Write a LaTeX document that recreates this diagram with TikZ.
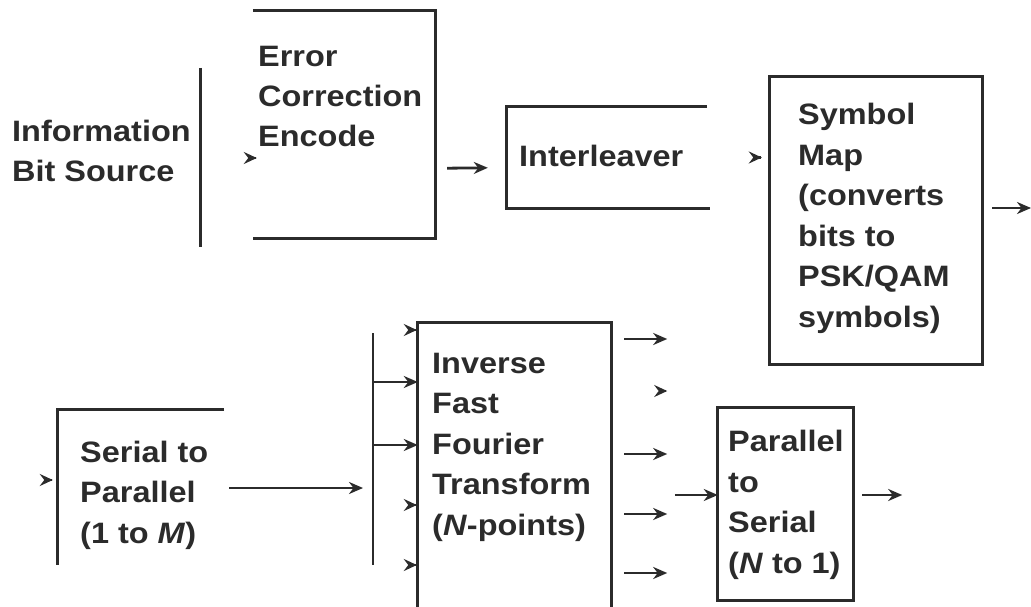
\documentclass[tikz,border=0pt]{standalone}
\usepackage{fontspec}
\setmainfont{Liberation Sans}[FakeStretch=1.1]
\usetikzlibrary{arrows.meta}
\definecolor{ink}{gray}{0.17}
\tikzset{
  wire/.style={draw=ink, line width=2.8pt},
  arr/.style={wire, -{Stealth[length=14pt, width=12pt, inset=4.5pt]}},
  headonly/.style={wire, -{Stealth[length=13pt, width=12pt, inset=4.5pt]}},
  frame/.style={draw=none, rectangle, inner sep=0pt},
  % multi-line labels are placed by the baseline of their last line
  lbl/.style={anchor=base west, inner sep=0pt, align=left, text=ink,
    font=\fontsize{29.5}{40.5}\selectfont\bfseries},
}
\begin{document}
\begin{tikzpicture}[x=1pt, y=-1pt]
\useasboundingbox[fill=white] (0,0) rectangle (1031,607);

% ---------- upper chain ----------
\node[frame, minimum width=192pt, minimum height=179pt] (src) at (104,157.5) {};
\draw[wire] (src.north east) -- (src.south east);
\node[lbl] (src-t) at (12,182) {Information\\Bit Source};

\node[frame, minimum width=182pt, minimum height=227pt] (ecc) at (344,124.5) {};
\draw[wire] (ecc.north west) -- (ecc.north east) -- (ecc.south east) -- (ecc.south west);
\node[lbl] (ecc-t) at (258,147) {Error\\Correction\\Encode};

\node[frame, minimum width=200pt, minimum height=101pt] (ilv) at (607,157.5) {};
\draw[wire] (ilv.north east) -- (ilv.north west) -- (ilv.south west) -- ([xshift=3pt]ilv.south east);
\node[lbl] (ilv-t) at (519,167) {Interleaver};

\node[frame, minimum width=212pt, minimum height=287pt] (map) at (876,220.5) {};
\draw[wire] (map.north west) rectangle (map.south east);
\node[lbl] (map-t) at (798,327) {Symbol\\Map\\(converts\\bits to\\PSK/QAM\\symbols)};

% connectors of the upper chain
\draw[headonly] ([shift={(3,33.5)}]ecc.west) -- ([shift={(4,33.5)}]ecc.west);
\draw[arr] ([shift={(12,-70)}]ecc.south east) -- ([shift={(-19,61)}]ilv.north west);
\draw[headonly] ([xshift=-9pt]map.west |- ilv.center) -- ([xshift=-8pt]map.west |- ilv.center);
\coordinate (map-out) at (1031,208);
\draw[arr] ([shift={(10,-12.5)}]map.east) -- (map-out);

% ---------- lower chain ----------
\node[frame, minimum width=166pt, minimum height=155pt] (s2p) at (141,487.5) {};
\draw[wire] (s2p.north east) -- (s2p.north west) -- (s2p.south west);
\node[lbl] (s2p-t) at (80,543) {Serial to\\Parallel\\(1 to \textit{M})};

\coordinate (bus-top) at (373,333);
\coordinate (bus-bot) at (373,565);
\draw[wire] (bus-top) -- (bus-bot);

\node[frame, minimum width=193pt, minimum height=290pt] (ifft) at (514.5,468) {};
\draw[wire] (ifft.south west) -- (ifft.north west) -- (ifft.north east) -- (ifft.south east);
\node[lbl] (ifft-t) at (432,535) {Inverse\\Fast\\Fourier\\Transform\\(\textit{N}-points)};

\node[frame, minimum width=135pt, minimum height=192pt] (p2s) at (785.5,504) {};
\draw[wire] (p2s.north west) rectangle (p2s.south east);
\node[lbl] (p2s-t) at (728,573) {Parallel\\to\\Serial\\(\textit{N} to 1)};

% connectors of the lower chain
\draw[headonly] ([shift={(-6,-7.5)}]s2p.west) -- ([shift={(-5,-7.5)}]s2p.west);
\draw[arr] ([shift={(5,0.5)}]s2p.east) -- ([xshift=-10pt]bus-top |- 0,488);
\draw[arr] (bus-top |- 0,382) -- (ifft.west |- 0,382);
\draw[arr] (bus-top |- 0,445) -- (ifft.west |- 0,445);
\foreach \yy in {330,505,565}
  \draw[headonly] ([xshift=-2pt]ifft.west |- 0,\yy) -- ([xshift=-1pt]ifft.west |- 0,\yy);
\foreach \yy in {339,454,514,573}
  \draw[arr] ([xshift=13pt]ifft.east |- 0,\yy) -- ([xshift=56pt]ifft.east |- 0,\yy);
\draw[headonly] ([xshift=55pt]ifft.east |- 0,391) -- ([xshift=56pt]ifft.east |- 0,391);
\draw[arr] ([xshift=-43pt]p2s.west |- 0,495) -- (p2s.west |- 0,495);
\draw[arr] ([xshift=9pt]p2s.east |- 0,495) -- ([xshift=49pt]p2s.east |- 0,495);
\end{tikzpicture}
\end{document}
